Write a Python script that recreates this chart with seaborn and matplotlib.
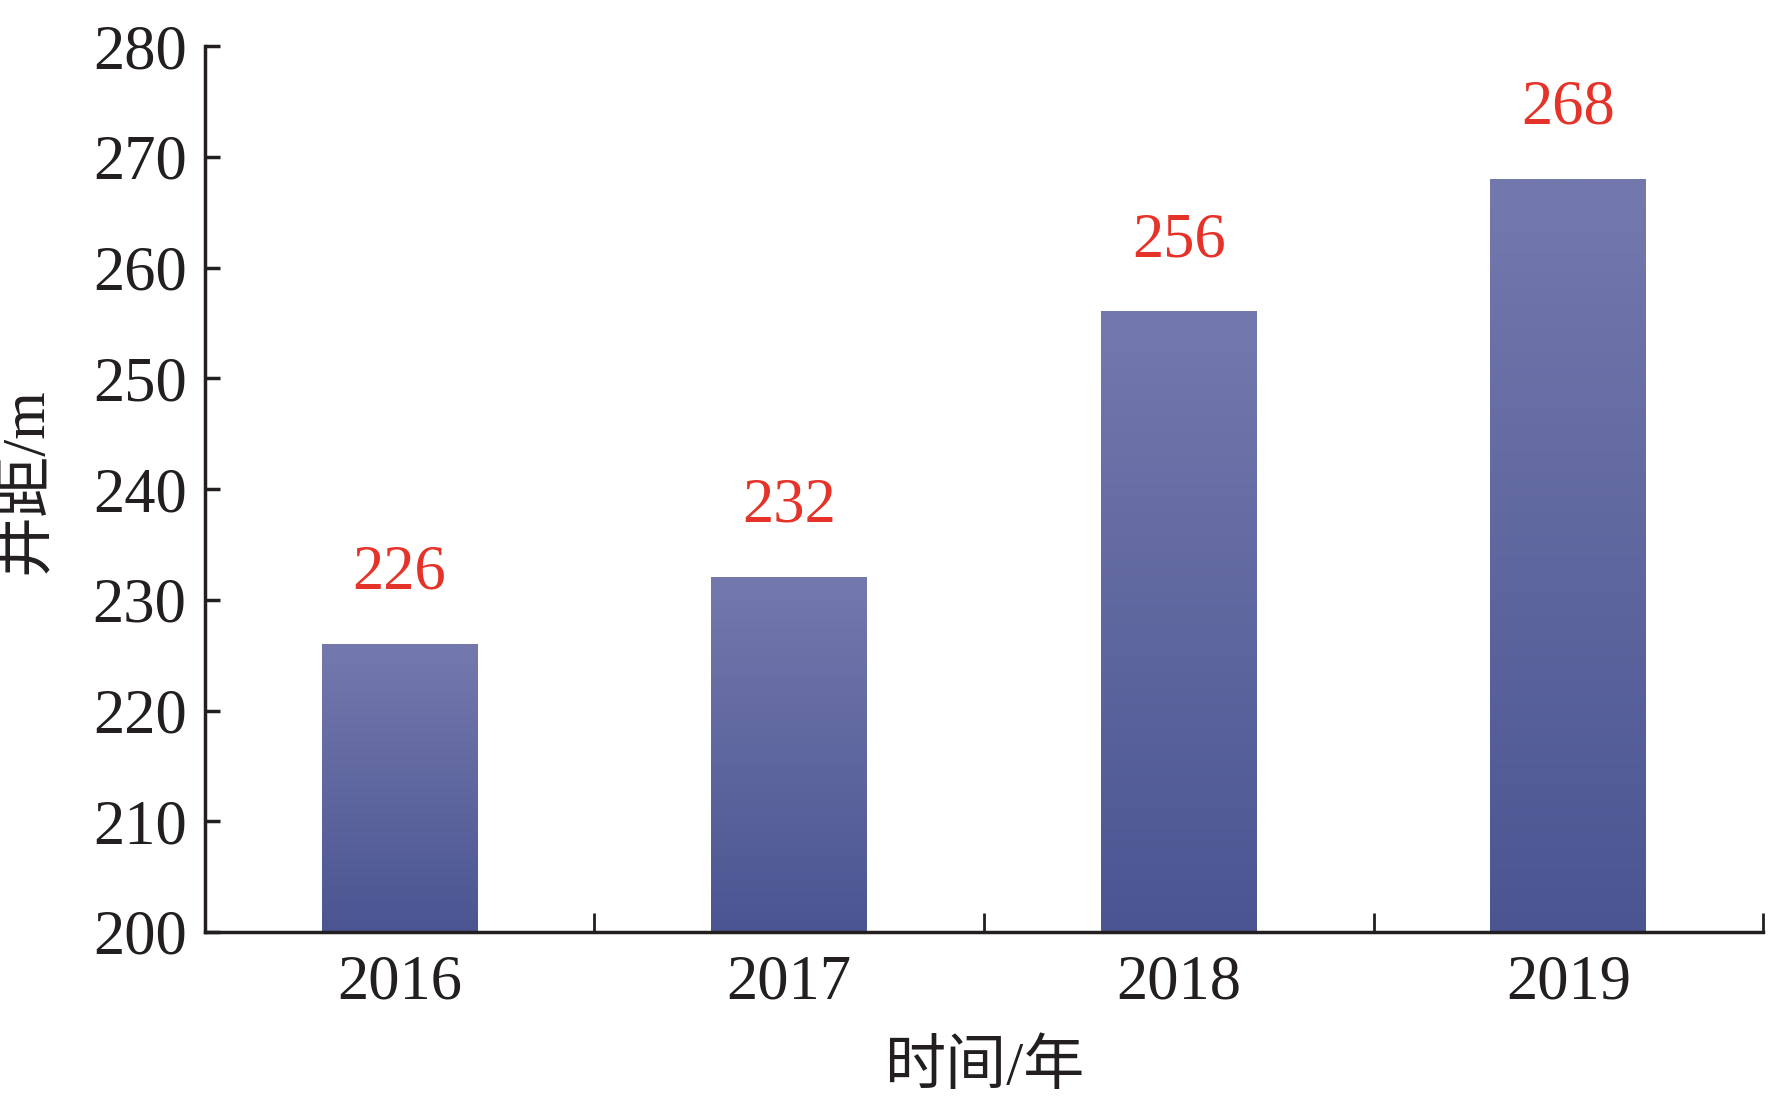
import numpy as np
import pandas as pd
import matplotlib
matplotlib.use("Agg")
import matplotlib.pyplot as plt
import seaborn as sns
from matplotlib.colors import LinearSegmentedColormap

years = ["2016", "2017", "2018", "2019"]
spacing = [226, 232, 256, 268]

df = pd.DataFrame({"year": years, "spacing": spacing})

sns.set_style("white")
plt.rcParams["font.family"] = ["Liberation Serif", "Noto Sans CJK SC"]
plt.rcParams["axes.unicode_minus"] = False

ink = "#231F20"
red = "#E5332A"
grad = LinearSegmentedColormap.from_list("bar", ["#4A5592", "#7479AD"])

fig = plt.figure(figsize=(17.72, 10.99), dpi=100)
ax = fig.add_axes([0.1155, 0.152, 0.8795, 0.806])

sns.barplot(data=df, x="year", y="spacing", width=0.4, color="#5A64A0",
            ax=ax, zorder=2)

# gradient fill for every bar, light at top, dark at bottom
g = np.linspace(0, 1, 256).reshape(-1, 1)
for p in ax.patches:
    x0 = p.get_x()
    w = p.get_width()
    top = p.get_y() + p.get_height()
    ax.imshow(g, cmap=grad, origin="lower", aspect="auto",
              extent=[x0, x0 + w, 200, top], zorder=3)
    p.set_visible(False)
ax.set_ylim(200, 280)
ax.set_xlim(-0.5, 3.5)

# value labels
for i, v in enumerate(spacing):
    ax.annotate(str(v), (i, v), xytext=(0, 51), textcoords="offset points",
                ha="center", va="center", fontsize=45, color=red)

# axes styling
for s in ["top", "right"]:
    ax.spines[s].set_visible(False)
for s in ["left", "bottom"]:
    ax.spines[s].set_linewidth(2.5)
    ax.spines[s].set_color(ink)
    ax.spines[s].set_zorder(5)

ax.set_yticks(np.arange(200, 281, 10))
ax.tick_params(axis="y", left=True, direction="in", length=11, width=2.5,
               colors=ink, labelsize=45, pad=13)
ax.set_xticks(range(len(years)), years)
ax.set_xticks([0.5, 1.5, 2.5, 3.5], minor=True)
ax.tick_params(axis="x", which="major", bottom=True, length=0, labelsize=45,
               pad=16, colors=ink)
ax.tick_params(axis="x", which="minor", bottom=True, direction="in",
               length=14, width=2, color=ink)

ax.set_xlabel("时间/年", fontsize=44, color=ink)
ax.set_ylabel("井距/m", fontsize=44, color=ink)
ax.xaxis.set_label_coords(0.5, -0.122)
ax.yaxis.set_label_coords(-0.097, 0.51)

fig.savefig("out.png", dpi=100)
